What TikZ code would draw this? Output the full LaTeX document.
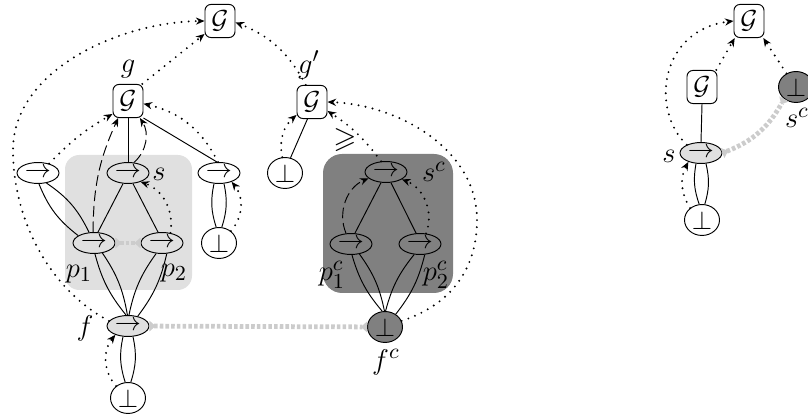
\documentclass[tikz,border=0pt]{standalone}
\usepackage{amssymb}
\usetikzlibrary{shapes.geometric,arrows.meta}
\definecolor{lightbox}{HTML}{E0E0E0}
\definecolor{darkbox}{HTML}{808080}
\definecolor{grayc}{HTML}{CCCCCC}
\begin{document}
\begin{tikzpicture}[x=0.42pt,y=0.42pt,
 every node/.style={font=\fontsize{11}{13}\selectfont},
 arr/.style={ellipse,draw,inner sep=0pt,minimum width=17.6pt,minimum height=8.8pt},
 gbox/.style={draw,rounded corners=2.5pt,inner sep=0pt,minimum width=12.6pt,minimum height=13.9pt},
 botn/.style={ellipse,draw,inner sep=0pt,minimum width=14.7pt,minimum height=13pt},
 lab/.style={inner sep=0pt,font=\fontsize{12.5}{14}\selectfont},
 dotarr/.style={line width=0.9pt,dash pattern=on 0pt off 3pt,line cap=round,-{Stealth[length=3.6pt,width=3pt]}},
 dasharr/.style={dash pattern=on 4.5pt off 2pt,-{Stealth[length=3.6pt,width=3pt]}},
 grayln/.style={draw=grayc,line width=2pt,dash pattern=on 1.5pt off 0.9pt,{Triangle[reversed,length=2.6pt,width=4.4pt]}-{Triangle[reversed,length=2.6pt,width=4.4pt]}},
]
\useasboundingbox (0,0) rectangle (808,-417);
% shaded boxes
\fill[lightbox, rounded corners=6pt] (65,-155) rectangle (192,-290);
\fill[darkbox, rounded corners=8pt] (323,-154) rectangle (453,-293);

% nodes, left structure
\node[gbox] (Gt) at (220,-21) {$\mathcal G$};
\node[gbox] (Gg) at (128,-101) {$\mathcal G$};
\node[gbox] (Gp) at (312,-102) {$\mathcal G$};
\node[arr] (L1) at (38,-173) {$\rightarrow$};
\node[arr,fill=lightbox] (s) at (128,-173) {$\rightarrow$};
\node[arr] (R1) at (219,-173) {$\rightarrow$};
\node[botn] (bR) at (219,-243) {$\bot$};
\node[arr,fill=lightbox] (p1) at (94,-243) {$\rightarrow$};
\node[arr,fill=lightbox] (p2) at (162,-243) {$\rightarrow$};
\node[arr,fill=lightbox] (f) at (128,-326) {$\rightarrow$};
\node[botn] (bB) at (128,-398) {$\bot$};
% middle structure
\node[botn] (bM) at (285,-173) {$\bot$};
\node[arr,fill=darkbox] (sc) at (386,-172) {$\rightarrow$};
\node[arr,fill=darkbox] (p1c) at (351,-244) {$\rightarrow$};
\node[arr,fill=darkbox] (p2c) at (420,-244) {$\rightarrow$};
\node[botn,fill=darkbox] (fc) at (385,-327) {$\bot$};
% right structure
\node[gbox] (Gt2) at (749,-21) {$\mathcal G$};
\node[gbox] (G2) at (702,-87) {$\mathcal G$};
\node[arr,fill=lightbox] (s2) at (701,-153) {$\rightarrow$};
\node[botn] (b2) at (702,-220) {$\bot$};
\node[botn,fill=darkbox] (sc2) at (796,-87) {$\bot$};

% labels
\node[lab] (lg) at (128,-69) {$g$};
\node[lab] (lgp) at (309,-65) {$g'$};
\node[lab] (ls) at (159,-174) {$s$};
\node[lab] (lp1) at (79,-274) {$p_1$};
\node[lab] (lp2) at (174,-273) {$p_2$};
\node[lab] (lf) at (85,-328) {$f$};
\node[lab] (lsc) at (434,-172) {$s^c$};
\node[lab] (lp1c) at (332,-275) {$p^c_1$};
\node[lab] (lp2c) at (436,-275) {$p^c_2$};
\node[lab] (lfc) at (386,-362) {$f^c$};
\node[lab] (lgeq) at (345,-140) {$\geqslant$};
\node[lab] (ls2) at (669,-156) {$s$};
\node[lab] (lsc2) at (797,-118) {$s^c$};

% left structure edges
\draw (Gg.south) -- (s.north);
\draw (Gg.south east) -- (R1.100);
\draw[dasharr] (s.60) to[bend right=40] (Gg.-55);
\draw[dasharr] (p1.95) to[bend left=12] (Gg.-120);
\draw[dotarr] (L1.40) to[bend left=8] (Gg.-140);
\draw[dotarr] (R1.95) to[bend right=25] (Gg.-10);
\draw[dotarr] (Gg.50) -- (Gt.-140);
\draw[dotarr] (f.165) .. controls (50,-290) and (13,-220) .. (13,-150) .. controls (13,-70) and (120,-22) .. (Gt.west);
\draw (L1.-85) to[bend right=15] (p1.155);
\draw (L1.-50) to[bend left=15] (p1.115);
\draw (p1.70) -- (s.-115);
\draw (s.-65) -- (p2.110);
\draw[dotarr] (p2.50) to[bend right=40] (s.-35);
\draw (p1.-85) to[bend right=12] (f.100);
\draw (p1.-50) to[bend left=12] (f.93);
\draw (p2.-119) to[bend right=12] (f.85);
\draw (p2.-66) to[bend left=12] (f.45);
\draw (f.-115) to[bend right=15] (bB.100);
\draw (f.-65) to[bend left=15] (bB.80);
\draw[dotarr] (bB.135) to[bend left=40] (f.-145);
\draw (R1.-115) to[bend right=15] (bR.100);
\draw (R1.-65) to[bend left=15] (bR.80);
\draw[dotarr] (bR.45) to[bend right=40] (R1.-35);
\draw[grayln] (p1) -- (p2);
\draw[grayln] (f) -- (fc);

% middle structure edges
\draw (bM.70) -- (Gp.-105);
\draw[dotarr] (bM.100) to[bend left=30] (Gp.-140);
\draw[dotarr] (Gp.110) to[bend right=20] (Gt.-5);
\draw[dotarr] (sc.115) to[bend right=10] (Gp.-30);
\draw (p1c.70) -- (sc.-115);
\draw (sc.-65) -- (p2c.110);
\draw[dasharr] (p1c.115) to[bend left=45] (sc.-160);
\draw[dotarr] (p2c.60) to[bend right=45] (sc.-25);
\draw (p1c.-85) to[bend right=12] (fc.100);
\draw (p1c.-50) to[bend left=12] (fc.92);
\draw (p2c.-119) to[bend right=12] (fc.88);
\draw (p2c.-66) to[bend left=12] (fc.50);
\draw[dotarr] (fc.20) .. controls (450,-305) and (477,-270) .. (477,-220) .. controls (477,-150) and (400,-105) .. (Gp.east);

% right structure edges
\draw (G2.south) -- (s2.north);
\draw[dotarr] (s2.150) .. controls (650,-110) and (660,-30) .. (Gt2.west);
\draw[dotarr] (G2.50) -- (Gt2.-130);
\draw[dotarr] (sc2.125) -- (Gt2.-50);
\draw[grayln] (s2.east) to[bend right=20] (sc2.-135);
\draw (s2.-115) to[bend right=15] (b2.100);
\draw (s2.-65) to[bend left=15] (b2.80);
\draw[dotarr] (b2.135) to[bend left=30] (s2.-145);
\end{tikzpicture}
\end{document}
